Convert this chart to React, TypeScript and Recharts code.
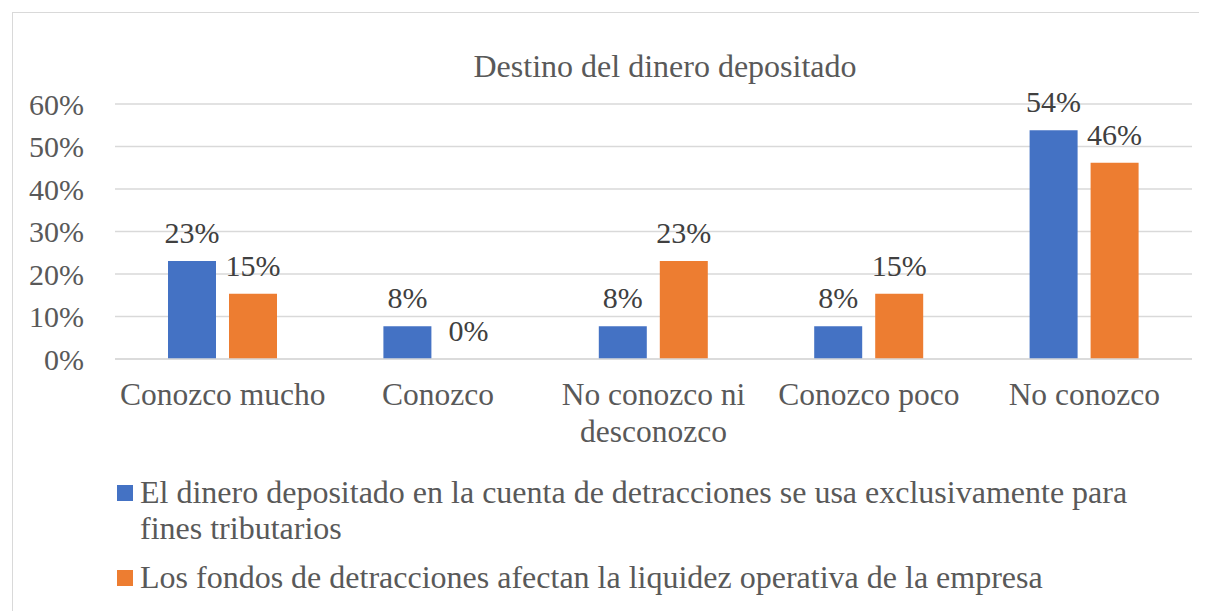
import React from "react";
import {
  BarChart,
  Bar,
  XAxis,
  YAxis,
  CartesianGrid,
  LabelList,
  Legend,
} from "recharts";

// category labels, already split the way the reference wraps them
const categoryLines = [
  ["Conozco mucho"],
  ["Conozco"],
  ["No conozco ni", "desconozco"],
  ["Conozco poco"],
  ["No conozco"],
];
const categories = categoryLines.map((l) => l.join(" "));
const usoExclusivo = [0.2308, 0.0769, 0.0769, 0.0769, 0.5385];
const afectaLiquidez = [0.1538, 0, 0.2308, 0.1538, 0.4615];
const yTicks = [0, 0.1, 0.2, 0.3, 0.4, 0.5, 0.6];

const seriesNames = [
  "El dinero depositado en la cuenta de detracciones se usa exclusivamente para fines tributarios",
  "Los fondos de detracciones afectan la liquidez operativa de la empresa",
];
const seriesColors = ["#4472C4", "#ED7D31"];

const data = categories.map((name, i) => ({
  name,
  a: usoExclusivo[i],
  b: afectaLiquidez[i],
}));

const FONT = '"Liberation Serif", "Times New Roman", serif';
const pct = (v: any) => `${Math.round(Number(v) * 100)}%`;

function CategoryTick(props: any) {
  const { x, y, index } = props;
  const lines = categoryLines[index] || [];
  return (
    <text
      x={x}
      y={y + 46}
      textAnchor="middle"
      fill="#595959"
      style={{ fontSize: 31.5, fontFamily: FONT }}
    >
      {lines.map((l, i) => (
        <tspan key={l} x={x} dy={i === 0 ? 0 : 37}>
          {l}
        </tspan>
      ))}
    </text>
  );
}

function LegendBox() {
  return (
    <div style={{ fontFamily: FONT, fontSize: 32, color: "#595959" }}>
      {seriesNames.map((n, i) => (
        <div
          key={n}
          style={{ display: "flex", alignItems: "flex-start", marginTop: i ? 13 : 0 }}
        >
          <div
            style={{
              width: 16,
              height: 16,
              marginTop: 11,
              marginRight: 7,
              background: seriesColors[i],
              flex: "none",
            }}
          />
          <div style={{ width: 1010, lineHeight: "36px" }}>{n}</div>
        </div>
      ))}
    </div>
  );
}

// zero-valued bars get a hair-thin height so their "0%" label is still drawn
const keepZero = (v: any) => (Number(v) === 0 ? 0.001 : 0);

export default function App() {
  return (
    <div
      style={{
        position: "relative",
        marginLeft: 4,
        marginTop: 4,
        width: 1194,
        height: 598,
        borderTop: "1px solid #d9d9d9",
        borderLeft: "1px solid #d9d9d9",
        fontFamily: FONT,
        background: "#fff",
      }}
    >
      <div
        style={{
          position: "absolute",
          left: 252,
          top: 37,
          width: 800,
          textAlign: "center",
          fontSize: 32,
          lineHeight: "32px",
          color: "#595959",
        }}
      >
        Destino del dinero depositado
      </div>
      <BarChart
        width={1194}
        height={598}
        data={data}
        margin={{ top: 91, right: 15, bottom: 152, left: 0 }}
        barSize={48}
        barGap={13}
      >
        <CartesianGrid vertical={false} stroke="#d9d9d9" strokeWidth={1.5} />
        <XAxis
          dataKey="name"
          interval={0}
          height={100}
          tickLine={false}
          tickSize={0}
          tickMargin={0}
          axisLine={{ stroke: "#d9d9d9", strokeWidth: 1.5 }}
          tick={<CategoryTick />}
        />
        <YAxis
          width={102}
          domain={[0, 0.6]}
          ticks={yTicks}
          tickFormatter={pct}
          axisLine={false}
          tickLine={false}
          tickSize={0}
          tickMargin={31}
          tick={{ fill: "#595959", fontSize: 30, fontFamily: FONT }}
        />
        <Legend
          layout="vertical"
          verticalAlign="middle"
          align="center"
          wrapperStyle={{ left: 104, top: 461, width: 1060 }}
          content={<LegendBox />}
        />
        <Bar
          dataKey="a"
          name={seriesNames[0]}
          fill={seriesColors[0]}
          minPointSize={keepZero}
          isAnimationActive={false}
        >
          <LabelList
            dataKey="a"
            position="top"
            offset={18}
            formatter={pct}
            fill="#404040"
            fontSize={30}
            fontFamily={FONT}
          />
        </Bar>
        <Bar
          dataKey="b"
          name={seriesNames[1]}
          fill={seriesColors[1]}
          minPointSize={keepZero}
          isAnimationActive={false}
        >
          <LabelList
            dataKey="b"
            position="top"
            offset={18}
            formatter={pct}
            fill="#404040"
            fontSize={30}
            fontFamily={FONT}
          />
        </Bar>
      </BarChart>
    </div>
  );
}
